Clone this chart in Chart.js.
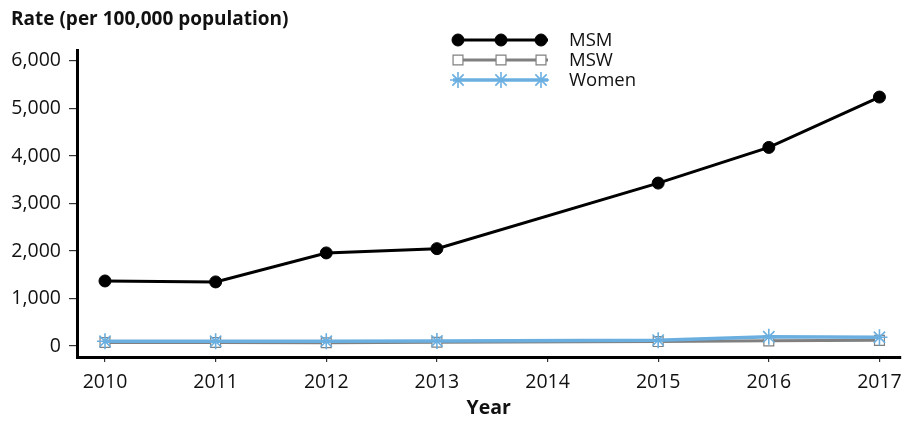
<!DOCTYPE html>
<html><head><meta charset="utf-8">
<script src="https://cdn.jsdelivr.net/npm/chart.js@4/dist/chart.umd.min.js"></script>
<style>html,body{margin:0;padding:0;background:#fff;overflow:hidden}#wrap{width:904px;height:425px;overflow:hidden}</style>
</head><body><div id="wrap"><canvas id="c" width="911" height="425"></canvas></div>
<script>
const years = [2010, 2011, 2012, 2013, 2014, 2015, 2016, 2017];
const msm = [1370, 1350, 1960, 2050, null, 3430, 4180, 5240];
const msw = [75, 75, 70, 80, null, 95, 110, 120];
const women = [100, 100, 100, 105, null, 125, 195, 185];
const yTicks = [0, 1000, 2000, 3000, 4000, 5000, 6000];
const yTitle = 'Rate (per 100,000 population)';
const xTitle = 'Year';
const FONT = "'Open Sans', sans-serif";

const toPts = arr => years.map((y, i) => ({x: y, y: arr[i]}));

const datasets = [
  {label: 'MSM', data: toPts(msm), borderColor: '#000', backgroundColor: '#000', borderWidth: 3,
   pointStyle: 'circle', pointRadius: 6, pointBorderWidth: 1, spanGaps: true, order: 3},
  {label: 'MSW', data: toPts(msw), borderColor: '#808080', backgroundColor: '#fff', borderWidth: 3,
   pointStyle: 'rect', pointRadius: 7, pointBorderWidth: 1.2, spanGaps: true, order: 2},
  {label: 'Women', data: toPts(women), borderColor: '#6aafe0', backgroundColor: '#6aafe0', borderWidth: 3.5,
   pointStyle: 'star', pointRadius: 8, pointBorderWidth: 1.6, spanGaps: true, order: 1}
];

const extras = {
  id: 'extras',
  afterDraw(chart) {
    const ctx = chart.ctx;
    ctx.save();
    ctx.fillStyle = '#111';
    ctx.font = "bold 19px " + FONT;
    ctx.textAlign = 'left';
    ctx.textBaseline = 'middle';
    ctx.fillText(yTitle, 11, 20);
    const rows = [40, 60, 80];
    chart.data.datasets.forEach((ds, i) => {
      const y = rows[i];
      ctx.strokeStyle = ds.borderColor;
      ctx.lineWidth = ds.borderWidth;
      ctx.beginPath(); ctx.moveTo(453, y); ctx.lineTo(548, y); ctx.stroke();
      [458, 501, 541].forEach(x => {
        ctx.fillStyle = ds.backgroundColor;
        ctx.strokeStyle = ds.borderColor;
        ctx.lineWidth = ds.pointBorderWidth;
        Chart.helpers.drawPoint(ctx, {pointStyle: ds.pointStyle, radius: ds.pointRadius, borderWidth: ds.pointBorderWidth, rotation: 0}, x, y);
      });
      ctx.fillStyle = '#111';
      ctx.font = "18.5px " + FONT;
      ctx.textAlign = 'left';
      ctx.fillText(ds.label, 569, y + 1);
    });
    ctx.restore();
  }
};

new Chart(document.getElementById('c'), {
  type: 'line',
  data: {datasets},
  options: {
    responsive: false,
    animation: false,
    layout: {padding: {left: 0, right: 0, top: 50, bottom: 0}},
    plugins: {legend: {display: false}, tooltip: {enabled: false}},
    scales: {
      x: {
        type: 'linear', min: 2009.747, max: 2017.19,
        afterBuildTicks: s => { s.ticks = years.map(v => ({value: v})); },
        afterFit: s => { s.height = 68; },
        grid: {drawOnChartArea: false, drawTicks: true, tickLength: 5, color: '#333', lineWidth: 1.2},
        border: {display: true, color: '#000', width: 3},
        ticks: {color: '#111', font: {family: FONT, size: 19.5}, padding: 9, maxRotation: 0, callback: v => String(v)},
        title: {display: true, text: xTitle, color: '#111', font: {family: FONT, size: 19.5, weight: 'bold'}, padding: {top: 0, bottom: 5}}
      },
      y: {
        min: -230, max: 6230,
        afterBuildTicks: s => { s.ticks = yTicks.map(v => ({value: v})); },
        afterFit: s => { s.width = 77; },
        grid: {drawOnChartArea: false, drawTicks: true, tickLength: 8, color: '#333', lineWidth: 1.2},
        border: {display: true, color: '#000', width: 3},
        ticks: {color: '#111', font: {family: FONT, size: 19.5}, padding: 8, callback: v => v.toLocaleString('en-US')}
      }
    }
  },
  plugins: [extras]
});
</script></body></html>
